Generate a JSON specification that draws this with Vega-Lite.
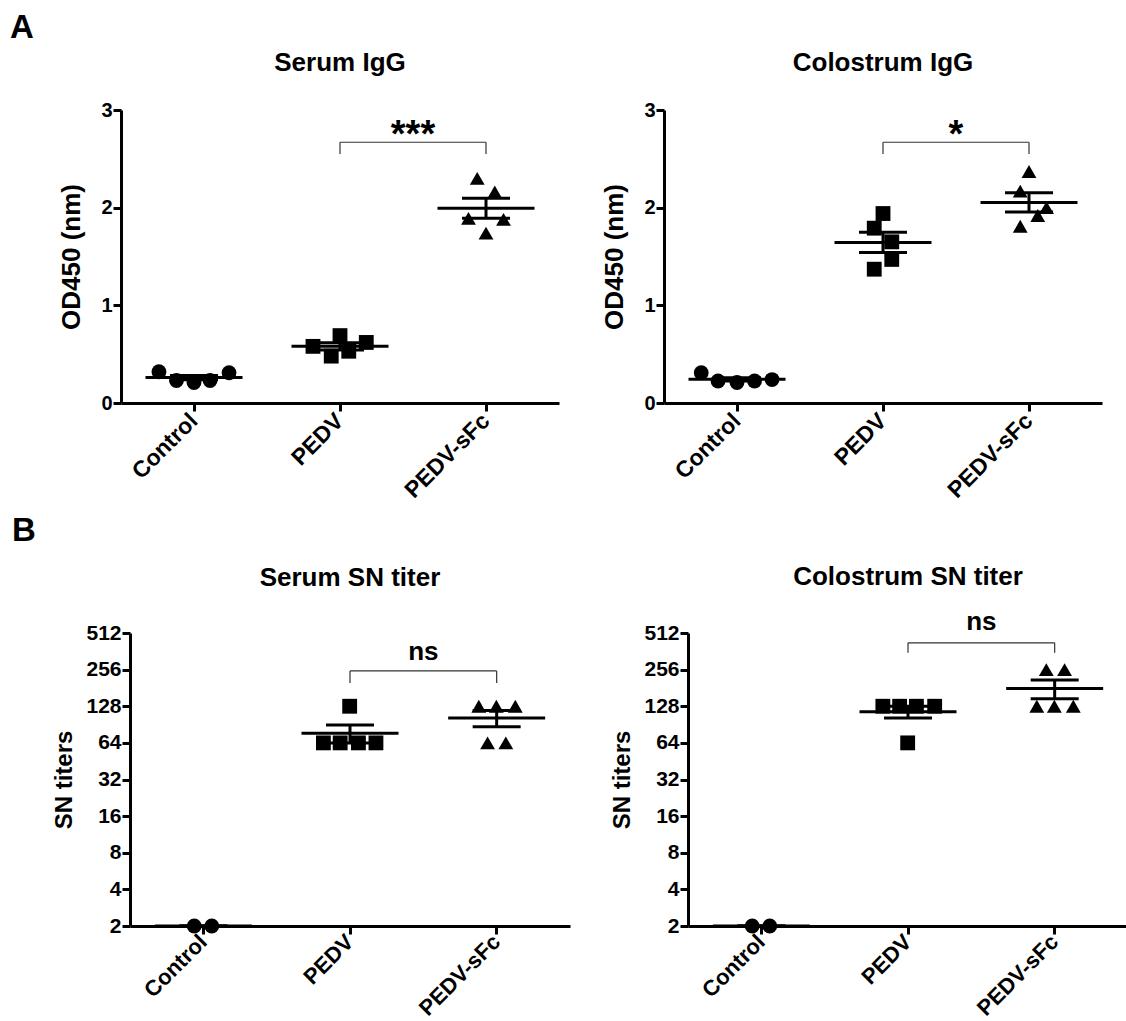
{
  "$schema": "https://vega.github.io/schema/vega-lite/v6.json",
  "background": "white",
  "padding": {"left": 10, "top": 12, "right": 0, "bottom": 0},
  "config": {
    "font": "Liberation Sans",
    "view": {"stroke": null},
    "axis": {"domainColor": "black", "domainWidth": 3, "tickColor": "black", "tickWidth": 3, "tickSize": 8, "labelFont": "Liberation Sans", "labelFontWeight": "bold", "labelColor": "black", "titleFont": "Liberation Sans", "titleFontWeight": "bold", "titleColor": "black", "grid": false},
    "title": {"font": "Liberation Sans", "fontSize": 26, "fontWeight": "bold", "color": "black"}
  },
  "datasets": {
    "pts": [
      {"panel": "A1", "group": "Control", "jit": -0.24, "value": 0.32},
      {"panel": "A1", "group": "Control", "jit": -0.12, "value": 0.23},
      {"panel": "A1", "group": "Control", "jit": 0, "value": 0.21},
      {"panel": "A1", "group": "Control", "jit": 0.11, "value": 0.23},
      {"panel": "A1", "group": "Control", "jit": 0.24, "value": 0.31},
      {"panel": "A1", "group": "PEDV", "jit": -0.185, "value": 0.58},
      {"panel": "A1", "group": "PEDV", "jit": 0, "value": 0.69},
      {"panel": "A1", "group": "PEDV", "jit": -0.06, "value": 0.48},
      {"panel": "A1", "group": "PEDV", "jit": 0.06, "value": 0.53},
      {"panel": "A1", "group": "PEDV", "jit": 0.18, "value": 0.62},
      {"panel": "A1", "group": "PEDV-sFc", "jit": -0.06, "value": 2.30},
      {"panel": "A1", "group": "PEDV-sFc", "jit": 0.06, "value": 2.16},
      {"panel": "A1", "group": "PEDV-sFc", "jit": -0.12, "value": 1.89},
      {"panel": "A1", "group": "PEDV-sFc", "jit": 0.12, "value": 1.88},
      {"panel": "A1", "group": "PEDV-sFc", "jit": 0, "value": 1.74},
      {"panel": "A2", "group": "Control", "jit": -0.245, "value": 0.31},
      {"panel": "A2", "group": "Control", "jit": -0.13, "value": 0.225},
      {"panel": "A2", "group": "Control", "jit": 0, "value": 0.21},
      {"panel": "A2", "group": "Control", "jit": 0.12, "value": 0.225},
      {"panel": "A2", "group": "Control", "jit": 0.24, "value": 0.24},
      {"panel": "A2", "group": "PEDV", "jit": 0, "value": 1.94},
      {"panel": "A2", "group": "PEDV", "jit": -0.06, "value": 1.79},
      {"panel": "A2", "group": "PEDV", "jit": 0.06, "value": 1.65},
      {"panel": "A2", "group": "PEDV", "jit": 0.06, "value": 1.47},
      {"panel": "A2", "group": "PEDV", "jit": -0.06, "value": 1.37},
      {"panel": "A2", "group": "PEDV-sFc", "jit": 0, "value": 2.37},
      {"panel": "A2", "group": "PEDV-sFc", "jit": -0.06, "value": 2.17},
      {"panel": "A2", "group": "PEDV-sFc", "jit": 0.12, "value": 2.00},
      {"panel": "A2", "group": "PEDV-sFc", "jit": 0.06, "value": 1.92},
      {"panel": "A2", "group": "PEDV-sFc", "jit": -0.06, "value": 1.81},
      {"panel": "B1", "group": "Control", "jit": -0.06, "value": 2},
      {"panel": "B1", "group": "Control", "jit": 0.06, "value": 2},
      {"panel": "B1", "group": "PEDV", "jit": 0, "value": 128},
      {"panel": "B1", "group": "PEDV", "jit": -0.18, "value": 64},
      {"panel": "B1", "group": "PEDV", "jit": -0.065, "value": 64},
      {"panel": "B1", "group": "PEDV", "jit": 0.06, "value": 64},
      {"panel": "B1", "group": "PEDV", "jit": 0.18, "value": 64},
      {"panel": "B1", "group": "PEDV-sFc", "jit": -0.12, "value": 128},
      {"panel": "B1", "group": "PEDV-sFc", "jit": 0, "value": 128},
      {"panel": "B1", "group": "PEDV-sFc", "jit": 0.13, "value": 128},
      {"panel": "B1", "group": "PEDV-sFc", "jit": -0.06, "value": 64},
      {"panel": "B1", "group": "PEDV-sFc", "jit": 0.065, "value": 64},
      {"panel": "B2", "group": "Control", "jit": -0.06, "value": 2},
      {"panel": "B2", "group": "Control", "jit": 0.06, "value": 2},
      {"panel": "B2", "group": "PEDV", "jit": -0.17, "value": 128},
      {"panel": "B2", "group": "PEDV", "jit": -0.055, "value": 128},
      {"panel": "B2", "group": "PEDV", "jit": 0.06, "value": 128},
      {"panel": "B2", "group": "PEDV", "jit": 0.185, "value": 128},
      {"panel": "B2", "group": "PEDV", "jit": 0, "value": 64},
      {"panel": "B2", "group": "PEDV-sFc", "jit": -0.055, "value": 256},
      {"panel": "B2", "group": "PEDV-sFc", "jit": 0.07, "value": 256},
      {"panel": "B2", "group": "PEDV-sFc", "jit": -0.12, "value": 128},
      {"panel": "B2", "group": "PEDV-sFc", "jit": 0, "value": 128},
      {"panel": "B2", "group": "PEDV-sFc", "jit": 0.13, "value": 128}
    ],
    "sig": [
      {"panel": "A1", "g1": "PEDV", "g2": "PEDV-sFc", "top": 2.67, "bot": 2.55, "ty": 2.62, "label": "***"},
      {"panel": "A2", "g1": "PEDV", "g2": "PEDV-sFc", "top": 2.67, "bot": 2.55, "ty": 2.62, "label": "*"},
      {"panel": "B1", "g1": "PEDV", "g2": "PEDV-sFc", "top": 250, "bot": 199, "ty": 308, "label": "ns"},
      {"panel": "B2", "g1": "PEDV", "g2": "PEDV-sFc", "top": 425, "bot": 352, "ty": 545, "label": "ns"}
    ]
  },
  "columns": 1,
  "spacing": 11,
  "concat": [
    {
      "title": {"text": "A", "anchor": "start", "fontSize": 33, "offset": 5},
      "spacing": 42,
      "hconcat": [
        {"width": 6, "height": 10, "data": {"values": []}, "mark": {"type": "point"}},
        {
          "width": 438, "height": 293,
          "title": {"text": "Serum IgG", "offset": 24},
          "layer": [
            {
              "data": {"name": "pts"},
              "transform": [{"filter": "datum.panel === 'A1'"}],
              "layer": [
                {"mark": {"type": "point", "filled": true, "opacity": 1, "color": "black", "size": 220},
                 "encoding": {
                   "x": {"field": "group", "type": "nominal", "title": null, "scale": {"domain": ["Control", "PEDV", "PEDV-sFc"], "paddingInner": 0, "paddingOuter": 0}, "axis": {"labelAngle": -45, "labelAlign": "right", "labelBaseline": "middle", "labelFontSize": 23, "labelPadding": 6}},
                   "xOffset": {"field": "jit", "type": "quantitative", "scale": {"domain": [-0.5, 0.5]}},
                   "y": {"field": "value", "type": "quantitative", "title": "OD450 (nm)", "scale": {"domain": [0, 3], "nice": false}, "axis": {"values": [0, 1, 2, 3], "format": "d", "labelFontSize": 20, "titleFontSize": 26, "labelPadding": 1, "titlePadding": 16}},
                   "shape": {"field": "group", "type": "nominal", "scale": {"domain": ["Control", "PEDV", "PEDV-sFc"], "range": ["circle", "square", "triangle-up"]}, "legend": null}
                 }},
                {"mark": {"type": "tick", "color": "black", "opacity": 1, "size": 97, "thickness": 3},
                 "encoding": {"x": {"field": "group", "type": "nominal", "title": null}, "y": {"aggregate": "mean", "field": "value", "type": "quantitative", "title": "OD450 (nm)"}}},
                {"mark": {"type": "errorbar", "extent": "stderr", "color": "black", "thickness": 3, "rule": {"color": "black", "opacity": 1}, "ticks": {"size": 48, "thickness": 3, "color": "black", "opacity": 1}},
                 "encoding": {"x": {"field": "group", "type": "nominal", "title": null}, "y": {"field": "value", "type": "quantitative", "title": "OD450 (nm)"}}}
              ]
            },
            {
              "data": {"name": "sig"},
              "transform": [{"filter": "datum.panel === 'A1'"}],
              "layer": [
                {"mark": {"type": "rule", "color": "#333333", "strokeWidth": 1.2},
                 "encoding": {"x": {"field": "g1", "type": "nominal", "title": null}, "x2": {"field": "g2"}, "y": {"field": "top", "type": "quantitative", "title": "OD450 (nm)"}}},
                {"transform": [{"fold": ["g1", "g2"], "as": ["end", "grp"]}],
                 "mark": {"type": "rule", "color": "#333333", "strokeWidth": 1.2},
                 "encoding": {"x": {"field": "grp", "type": "nominal", "title": null}, "y": {"field": "top", "type": "quantitative", "title": "OD450 (nm)"}, "y2": {"field": "bot"}}},
                {"mark": {"type": "text", "fontSize": 38, "fontWeight": "bold", "baseline": "alphabetic", "color": "black"},
                 "encoding": {"x": {"field": "g1", "type": "nominal", "bandPosition": 1, "title": null}, "y": {"field": "ty", "type": "quantitative", "title": "OD450 (nm)"}, "text": {"field": "label"}}}
              ]
            }
          ]
        },
        {
          "width": 438, "height": 293,
          "title": {"text": "Colostrum IgG", "offset": 24},
          "layer": [
            {
              "data": {"name": "pts"},
              "transform": [{"filter": "datum.panel === 'A2'"}],
              "layer": [
                {"mark": {"type": "point", "filled": true, "opacity": 1, "color": "black", "size": 220},
                 "encoding": {
                   "x": {"field": "group", "type": "nominal", "title": null, "scale": {"domain": ["Control", "PEDV", "PEDV-sFc"], "paddingInner": 0, "paddingOuter": 0}, "axis": {"labelAngle": -45, "labelAlign": "right", "labelBaseline": "middle", "labelFontSize": 23, "labelPadding": 6}},
                   "xOffset": {"field": "jit", "type": "quantitative", "scale": {"domain": [-0.5, 0.5]}},
                   "y": {"field": "value", "type": "quantitative", "title": "OD450 (nm)", "scale": {"domain": [0, 3], "nice": false}, "axis": {"values": [0, 1, 2, 3], "format": "d", "labelFontSize": 20, "titleFontSize": 26, "labelPadding": 1, "titlePadding": 16}},
                   "shape": {"field": "group", "type": "nominal", "scale": {"domain": ["Control", "PEDV", "PEDV-sFc"], "range": ["circle", "square", "triangle-up"]}, "legend": null}
                 }},
                {"mark": {"type": "tick", "color": "black", "opacity": 1, "size": 97, "thickness": 3},
                 "encoding": {"x": {"field": "group", "type": "nominal", "title": null}, "y": {"aggregate": "mean", "field": "value", "type": "quantitative", "title": "OD450 (nm)"}}},
                {"mark": {"type": "errorbar", "extent": "stderr", "color": "black", "thickness": 3, "rule": {"color": "black", "opacity": 1}, "ticks": {"size": 48, "thickness": 3, "color": "black", "opacity": 1}},
                 "encoding": {"x": {"field": "group", "type": "nominal", "title": null}, "y": {"field": "value", "type": "quantitative", "title": "OD450 (nm)"}}}
              ]
            },
            {
              "data": {"name": "sig"},
              "transform": [{"filter": "datum.panel === 'A2'"}],
              "layer": [
                {"mark": {"type": "rule", "color": "#333333", "strokeWidth": 1.2},
                 "encoding": {"x": {"field": "g1", "type": "nominal", "title": null}, "x2": {"field": "g2"}, "y": {"field": "top", "type": "quantitative", "title": "OD450 (nm)"}}},
                {"transform": [{"fold": ["g1", "g2"], "as": ["end", "grp"]}],
                 "mark": {"type": "rule", "color": "#333333", "strokeWidth": 1.2},
                 "encoding": {"x": {"field": "grp", "type": "nominal", "title": null}, "y": {"field": "top", "type": "quantitative", "title": "OD450 (nm)"}, "y2": {"field": "bot"}}},
                {"mark": {"type": "text", "fontSize": 38, "fontWeight": "bold", "baseline": "alphabetic", "color": "black"},
                 "encoding": {"x": {"field": "g1", "type": "nominal", "bandPosition": 1, "title": null}, "y": {"field": "ty", "type": "quantitative", "title": "OD450 (nm)"}, "text": {"field": "label"}}}
              ]
            }
          ]
        }
      ]
    },
    {
      "title": {"text": "B", "anchor": "start", "fontSize": 33, "offset": 16, "dx": 2},
      "spacing": 40,
      "hconcat": [
        {"width": 2, "height": 10, "data": {"values": []}, "mark": {"type": "point"}},
        {
          "width": 440, "height": 293,
          "title": {"text": "Serum SN titer", "offset": 31},
          "layer": [
            {
              "data": {"name": "pts"},
              "transform": [{"filter": "datum.panel === 'B1'"}],
              "layer": [
                {"mark": {"type": "point", "filled": true, "opacity": 1, "color": "black", "size": 220},
                 "encoding": {
                   "x": {"field": "group", "type": "nominal", "title": null, "scale": {"domain": ["Control", "PEDV", "PEDV-sFc"], "paddingInner": 0, "paddingOuter": 0}, "axis": {"labelAngle": -45, "labelAlign": "right", "labelBaseline": "middle", "labelFontSize": 22, "labelPadding": 4}},
                   "xOffset": {"field": "jit", "type": "quantitative", "scale": {"domain": [-0.5, 0.5]}},
                   "y": {"field": "value", "type": "quantitative", "title": "SN titers", "scale": {"type": "log", "base": 2, "domain": [2, 512], "nice": false}, "axis": {"values": [2, 4, 8, 16, 32, 64, 128, 256, 512], "format": "d", "labelFontSize": 21, "titleFontSize": 24, "labelPadding": 1, "titlePadding": 9}},
                   "shape": {"field": "group", "type": "nominal", "scale": {"domain": ["Control", "PEDV", "PEDV-sFc"], "range": ["circle", "square", "triangle-up"]}, "legend": null}
                 }},
                {"mark": {"type": "tick", "color": "black", "opacity": 1, "size": 97, "thickness": 3},
                 "encoding": {"x": {"field": "group", "type": "nominal", "title": null}, "y": {"aggregate": "mean", "field": "value", "type": "quantitative", "title": "SN titers"}}},
                {"mark": {"type": "errorbar", "extent": "stderr", "color": "black", "thickness": 3, "rule": {"color": "black", "opacity": 1}, "ticks": {"size": 48, "thickness": 3, "color": "black", "opacity": 1}},
                 "encoding": {"x": {"field": "group", "type": "nominal", "title": null}, "y": {"field": "value", "type": "quantitative", "title": "SN titers"}}}
              ]
            },
            {
              "data": {"name": "sig"},
              "transform": [{"filter": "datum.panel === 'B1'"}],
              "layer": [
                {"mark": {"type": "rule", "color": "#333333", "strokeWidth": 1.2},
                 "encoding": {"x": {"field": "g1", "type": "nominal", "title": null}, "x2": {"field": "g2"}, "y": {"field": "top", "type": "quantitative", "title": "SN titers"}}},
                {"transform": [{"fold": ["g1", "g2"], "as": ["end", "grp"]}],
                 "mark": {"type": "rule", "color": "#333333", "strokeWidth": 1.2},
                 "encoding": {"x": {"field": "grp", "type": "nominal", "title": null}, "y": {"field": "top", "type": "quantitative", "title": "SN titers"}, "y2": {"field": "bot"}}},
                {"mark": {"type": "text", "fontSize": 26, "fontWeight": "bold", "baseline": "alphabetic", "color": "black"},
                 "encoding": {"x": {"field": "g1", "type": "nominal", "bandPosition": 1, "title": null}, "y": {"field": "ty", "type": "quantitative", "title": "SN titers"}, "text": {"field": "label"}}}
              ]
            }
          ]
        },
        {
          "width": 440, "height": 293,
          "title": {"text": "Colostrum SN titer", "offset": 19},
          "layer": [
            {
              "data": {"name": "pts"},
              "transform": [{"filter": "datum.panel === 'B2'"}],
              "layer": [
                {"mark": {"type": "point", "filled": true, "opacity": 1, "color": "black", "size": 220},
                 "encoding": {
                   "x": {"field": "group", "type": "nominal", "title": null, "scale": {"domain": ["Control", "PEDV", "PEDV-sFc"], "paddingInner": 0, "paddingOuter": 0}, "axis": {"labelAngle": -45, "labelAlign": "right", "labelBaseline": "middle", "labelFontSize": 22, "labelPadding": 4}},
                   "xOffset": {"field": "jit", "type": "quantitative", "scale": {"domain": [-0.5, 0.5]}},
                   "y": {"field": "value", "type": "quantitative", "title": "SN titers", "scale": {"type": "log", "base": 2, "domain": [2, 512], "nice": false}, "axis": {"values": [2, 4, 8, 16, 32, 64, 128, 256, 512], "format": "d", "labelFontSize": 21, "titleFontSize": 24, "labelPadding": 1, "titlePadding": 9}},
                   "shape": {"field": "group", "type": "nominal", "scale": {"domain": ["Control", "PEDV", "PEDV-sFc"], "range": ["circle", "square", "triangle-up"]}, "legend": null}
                 }},
                {"mark": {"type": "tick", "color": "black", "opacity": 1, "size": 97, "thickness": 3},
                 "encoding": {"x": {"field": "group", "type": "nominal", "title": null}, "y": {"aggregate": "mean", "field": "value", "type": "quantitative", "title": "SN titers"}}},
                {"mark": {"type": "errorbar", "extent": "stderr", "color": "black", "thickness": 3, "rule": {"color": "black", "opacity": 1}, "ticks": {"size": 48, "thickness": 3, "color": "black", "opacity": 1}},
                 "encoding": {"x": {"field": "group", "type": "nominal", "title": null}, "y": {"field": "value", "type": "quantitative", "title": "SN titers"}}}
              ]
            },
            {
              "data": {"name": "sig"},
              "transform": [{"filter": "datum.panel === 'B2'"}],
              "layer": [
                {"mark": {"type": "rule", "color": "#333333", "strokeWidth": 1.2},
                 "encoding": {"x": {"field": "g1", "type": "nominal", "title": null}, "x2": {"field": "g2"}, "y": {"field": "top", "type": "quantitative", "title": "SN titers"}}},
                {"transform": [{"fold": ["g1", "g2"], "as": ["end", "grp"]}],
                 "mark": {"type": "rule", "color": "#333333", "strokeWidth": 1.2},
                 "encoding": {"x": {"field": "grp", "type": "nominal", "title": null}, "y": {"field": "top", "type": "quantitative", "title": "SN titers"}, "y2": {"field": "bot"}}},
                {"mark": {"type": "text", "fontSize": 26, "fontWeight": "bold", "baseline": "alphabetic", "color": "black"},
                 "encoding": {"x": {"field": "g1", "type": "nominal", "bandPosition": 1, "title": null}, "y": {"field": "ty", "type": "quantitative", "title": "SN titers"}, "text": {"field": "label"}}}
              ]
            }
          ]
        }
      ]
    }
  ]
}
